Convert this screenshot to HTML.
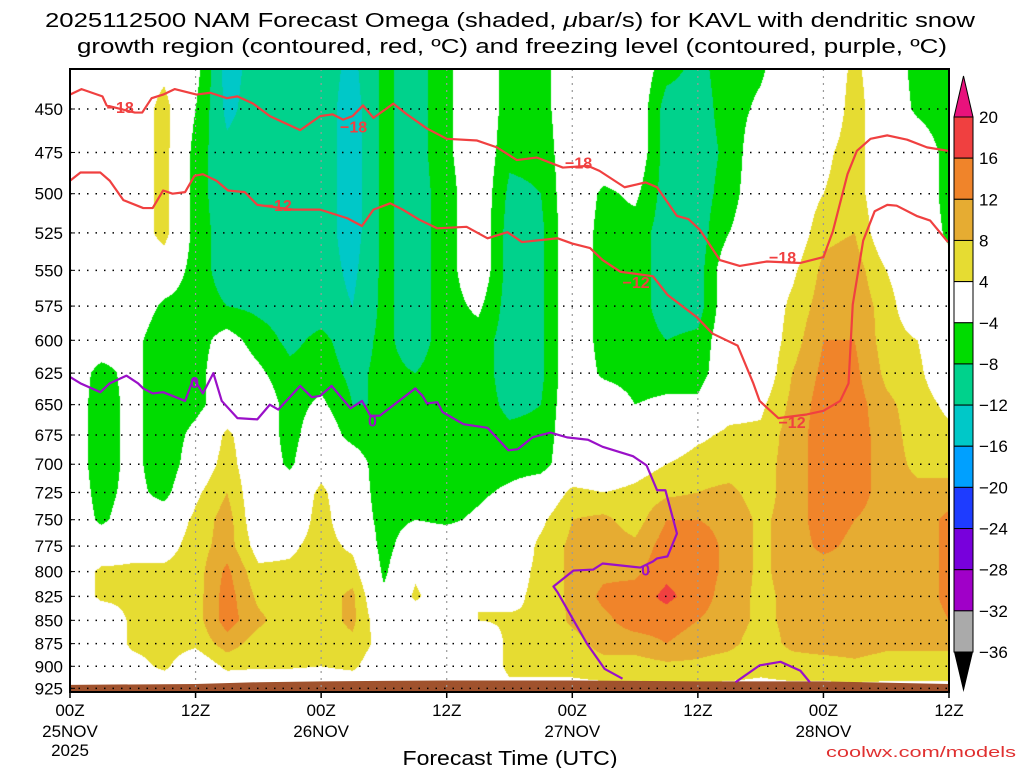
<!DOCTYPE html>
<html><head><meta charset="utf-8"><style>
html,body{margin:0;padding:0;background:#fff;width:1024px;height:768px;overflow:hidden;font-family:"Liberation Sans",sans-serif}
#wrap{position:relative;width:1024px;height:768px}
canvas{position:absolute;left:70px;top:69px}
svg{position:absolute;left:0;top:0}
</style></head><body>
<div id="wrap">
<canvas id="cv" width="879" height="623"></canvas>
<svg id="sv" width="1024" height="768">
<text x="510" y="27" text-anchor="middle" font-size="20" textLength="930" lengthAdjust="spacingAndGlyphs">2025112500 NAM Forecast Omega (shaded, <tspan font-style="italic">μ</tspan>bar/s) for KAVL with dendritic snow</text>
<text x="512" y="53" text-anchor="middle" font-size="20" textLength="870" lengthAdjust="spacingAndGlyphs">growth region (contoured, red, ºC) and freezing level (contoured, purple, ºC)</text>
<text x="510" y="765" text-anchor="middle" font-size="20" textLength="215" lengthAdjust="spacingAndGlyphs">Forecast Time (UTC)</text>
<text x="1016" y="757" text-anchor="end" font-size="15" fill="#e03030" textLength="190" lengthAdjust="spacingAndGlyphs">coolwx.com/models</text>
<g id="grid"></g><g id="lines"></g><g id="axes"></g><g id="cbar"></g>
</svg>
</div>
<script>
const hours=[0,3,6,9,12,15,18,21,24,27,30,33,36,39,42,45,48,51,54,57,60,63,66,69,72,75,78,81,84];
const levels=[425,450,475,500,525,550,575,600,625,650,675,700,725,750,775,800,825,850,875,900,925];
const omega=[
[0,0,0,0,0,0,0,0,0,0,0,0,0,0,0,0,0,0,0,0,0],
[0,0,0,0,0,0,0,0,-6,-7,-7,-7,-6,-5,0,5,5,0,0,0,0],
[0,0,0,0,0,0,0,-2,-2,-2,-2,-2,-2,-1,2,5,5,5,5,2,0],
[2,6,6,6,6,0,-5,-8,-8,-8,-8,-8,-6,0,2,5,5,6,6,5,0],
[-2,-4,-6,-6,-6,-6,-6,-6,-6,-6,-2,0,3,5,6,6,6,6,5,0,0],
[-14,-13,-11,-11,-10,-10,-8,-2,0,0,5,6,8,10,10,13,14,14,10,5,0],
[-10,-10,-10,-10,-10,-10,-9,-6,-3,0,0,0,0,0,2,5,7,9,6,4.5,0],
[-10,-10,-10,-10,-10,-10,-10,-9,-7,-6,-6,-5,0,0,3,5,5.5,5.5,5.5,4.5,0],
[-10,-10,-10,-10,-10,-10,-10,-7,-6,-3,0,2,5,6,6,6,6,6,6,4,0],
[-13,-14,-14,-14,-14,-13,-12,-10,-9,-8,-6,0,0,0,3,6,9,9,7,5,0],
[-7,-7,-7,-7,-7,-7,-7,-7,-7,-8,-8,-8,-7,-6,-6,-5,-3,0,2,0,0],
[-10,-10,-10,-10,-10,-10,-10,-10,-8,-7,-7,-7,-6,-4,0,3,5,0,0,0,0],
[-5,-5,-5,-6,-6,-6,-6,-6,-6,-6,-7,-7,-7,-5,0,0,0,0,0,0,0],
[0,0,0,0,0,0,-3,-6,-6,-6,-6,-6,-5,-3,0,0,4,4,0,0,0],
[-6,-6,-7,-9,-10,-10,-10,-10,-10,-9,-7,-6,-3,0,0,2,3,4.5,5,5,3],
[-6,-6,-7,-8,-9,-9,-9,-9,-9,-8,-7,-6,0,3,5,5,5,4,4,5,3],
[0,0,0,0,0,0,0,0,0,0,0,0,5,8,9,9,9,9,6,5,3],
[0,0,0,-5,-6,-6,-6,-6,-5,0,0,0,4,9,10,11,13,11,10,6,3],
[0,0,0,-3,-6,-6,-6,-6,-6,-4,0,2,5,6,9,11,14,14,10,6,3],
[-6,-10,-10,-10,-10,-10,-10,-8,-6,-3,0,4,7,12,14,15,17,14,12,7,3],
[-9,-10,-10,-10,-10,-10,-10,-7,-6,-3,3,6,8,12,14,14,14,12,10,7,3],
[-6,-6,-7,-6,-4,0,0,0,0,2,5,6,9,11,11,11,10,10,9,6,3],
[-5,-3,0,0,0,0,0,0,0,3,5,6,6,7,7,7,7,7,6,5,3],
[0,0,0,0,0,3,5,6,8,9,10,10,10,10,10,10,9,9,9,6,3],
[0,0,3,4,7,9,10,12,13,14,14,14,14,14,13,10,10,10,10,6,3],
[5,6,6,6,8,10,11,12,13,14,14,14,14,12,11,10,10,10,10,7,3],
[0,0,0,0,0,4,6,6,7,9,10,10,10,10,10,10,10,10,9,6,3],
[-6,-5,0,0,0,0,0,4,5,6,6,7,9,10,10,10,10,10,9,6,3],
[-8,-7,-6,-6,-5,-2,0,0,0,3,5,6,10,13,13,13,13,12,9,6,3]
];
const iso18H=[0,1.1,3.1,3.5,6.2,6.9,7.8,8.9,10,12.1,13.4,15,16,17.5,19.1,22,23.9,25.1,26.1,27,28,29,30.9,32.2,34.1,36,38.9,40.8,42.7,44.6,47.1,49.5,50.6,53,55,56.1,58,59.1,60.2,62.1,64,66.6,69.8,72,72.9,74.3,75.2,76.5,78.1,80,81.9,83.9];
const iso18P=[442,439,443,448,452,452,444,442,439,442,441,444,443,447,454,462,454,453,456,454,448,455,447,453,461,467,468,472,479.5,478,484,483,486,496,493,496,514,516,523,543,547,544,545,541,524,488,474,467,465,467.5,472,474];
const iso12H=[0,1,2.9,3.8,5.1,7,7.9,8.9,9.8,11,11.9,12.7,14,15.1,16.7,17.9,21.3,23.9,26.5,27.9,29,30.6,31.8,33.4,35.1,37.9,39.9,41.8,43.2,46.6,48,49.7,50.9,52.6,55.7,57.1,59.9,61.4,63.8,65.3,65.9,67.7,70.4,72,73.6,74.4,74.8,75.8,76.9,78.1,79,80.9,82.2,83.9];
const iso12P=[492,487,487,492,504,509,509,498,500,499,489,488,492,498,499,507,510,510,515.5,520.5,510,506,510,516.5,522,521,528.5,524.5,531,528.5,532,535,543,551,554,567,583,595,604,633,647,661,658,655,647,633,574,530,511,507,507.5,514,517,531];
const frzH=[0,1,2.9,3.8,5.4,6.5,7,7.9,8.9,11,11.8,12.7,13.7,14.5,16,17.9,19.1,19.9,22,23.1,23.9,25,26.8,27.9,28.7,29.6,33,33.7,34.1,35.1,35.6,37.6,39.9,41.9,42.8,44.2,45.9,47.5,49.5,50.9,53.8,55.1,56.1,56.9,58,57.1,56.1,55.7,54.5,50.9,50,48.1,46.2,46.6,49.4,51.1,52.8];
const frzP=[628,633,640,633,627,633,637,641,640,647,629,641,625,647,661,662,650,654,635,644,643,635,653,647,659,659,637,643,649,648,656,666,669,688,687,677,673,677,679,685,693,701,723,723,763,785,787,790,796,792,798,799,815,821,875,903,914];
const frz2H=[63.6,65.9,67.9,69.8,70.7];
const frz2P=[918,899,895,905,918];
const groundH=[0,12,18,24,36,48,60,72,84];
const groundP=[921,920,918,917,916,916,917,917,920];
const labels18=[[4.8,449],[27.1,460],[48.6,481],[68.1,541]];
const labels12=[[19.9,507],[54.1,558],[69,664]];
const labels0=[[11.9,632],[28.9,663],[55,798]];
const yTicks=[450,475,500,525,550,575,600,625,650,675,700,725,750,775,800,825,850,875,900,925];
const xTickHours=[0,12,24,36,48,60,72,84];
const xTickTime=["00Z","12Z","00Z","12Z","00Z","12Z","00Z","12Z"];
const xTickDate=["25NOV","","26NOV","","27NOV","","28NOV",""];
const cbarLevels=[20,16,12,8,4,-4,-8,-12,-16,-20,-24,-28,-32,-36];

const L=70,R=949,T=69,B=692,NS="http://www.w3.org/2000/svg";
const X=h=>L+h*(R-L)/84;
const Y=p=>109+804*Math.log(p/450);
const invH=x=>(x-L)*84/(R-L);
const invP=y=>450*Math.exp((y-109)/804);
const cols=[["#e8127c",20],["#f04040",16],["#f0842a",12],["#e6ac32",8],["#e6dc32",4],["#ffffff",-4],["#00dc00",-8],["#00d28c",-12],["#00c8c8",-16],["#00a0ff",-20],["#1e3cff",-24],["#7800dc",-28],["#a000c8",-32],["#aaaaaa",-36],["#000000",-1e9]];
function colorOf(v){for(const c of cols){if(v>c[1]||(c[1]===-4&&v>=-4))return c[0];}return "#000";}
function hex(c){return [parseInt(c.substr(1,2),16),parseInt(c.substr(3,2),16),parseInt(c.substr(5,2),16)];}
function interp(h,p){
 let i=Math.min(hours.length-2,Math.max(0,Math.floor(h/3)));
 let fx=(h-hours[i])/(hours[i+1]-hours[i]);fx=Math.max(0,Math.min(1,fx));
 const lp=Math.log(p);let j=0;
 while(j<levels.length-2&&p>levels[j+1])j++;
 let fy=(lp-Math.log(levels[j]))/(Math.log(levels[j+1])-Math.log(levels[j]));fy=Math.max(0,Math.min(1,fy));
 const a=omega[i][j],b=omega[i+1][j],c=omega[i][j+1],d=omega[i+1][j+1];
 return (a*(1-fx)+b*fx)*(1-fy)+(c*(1-fx)+d*fx)*fy;
}
const cv=document.getElementById('cv'),ctx=cv.getContext('2d');
const W=cv.width,H=cv.height,img=ctx.createImageData(W,H);
for(let py=0;py<H;py++){const p=invP(T+py+0.5);for(let px=0;px<W;px++){
 const v=interp(invH(L+px+0.5),p);const c=hex(colorOf(v));const k=(py*W+px)*4;
 img.data[k]=c[0];img.data[k+1]=c[1];img.data[k+2]=c[2];img.data[k+3]=255;}}
ctx.putImageData(img,0,0);

function mk(tag,attrs,parent){const e=document.createElementNS(NS,tag);for(const k in attrs)e.setAttribute(k,attrs[k]);parent.appendChild(e);return e;}
const grid=document.getElementById('grid'),lines=document.getElementById('lines'),axes=document.getElementById('axes'),cbar=document.getElementById('cbar');
let gpts=groundH.map((h,i)=>X(h)+","+Y(groundP[i])).join(" ")+` ${R},${B} ${L},${B}`;
let g=mk('polygon',{points:gpts,fill:"#a0522d"},grid);


yTicks.forEach(p=>{let l=mk('line',{x1:L,x2:R,y1:Y(p),y2:Y(p),stroke:"#000","stroke-width":1.5,"stroke-dasharray":"1.5 7"},grid);
 
 
 let t=mk('text',{x:63,y:Y(p)+6,"text-anchor":"end","font-size":17},axes);t.textContent=p;
 
 
 let tk=mk('line',{x1:L,x2:L+5,y1:Y(p),y2:Y(p),stroke:"#000"},axes);
 
 });
xTickHours.forEach((h,i)=>{
 if(h>0&&h<84){let l=mk('line',{x1:X(h),x2:X(h),y1:T,y2:B,stroke:"#999","stroke-width":1.2,"stroke-dasharray":"2 5"},grid);
 
 }
 let tk=mk('line',{x1:X(h),x2:X(h),y1:B,y2:B+6,stroke:"#000","stroke-width":1.5},axes);
 
 
 let t=mk('text',{x:X(h),y:716,"text-anchor":"middle","font-size":17},axes);t.textContent=xTickTime[i];
 
 
 if(xTickDate[i]){let d=mk('text',{x:X(h),y:737,"text-anchor":"middle","font-size":17},axes);d.textContent=xTickDate[i];
 
 }
});
let yr=mk('text',{x:X(0),y:756,"text-anchor":"middle","font-size":17},axes);yr.textContent="2025";


function poly(hs,ps,color,name){let pl=mk('polyline',{points:hs.map((h,i)=>X(h)+","+Y(ps[i])).join(" "),fill:"none",stroke:color,"stroke-width":2.2,"stroke-linejoin":"round"},lines);
 
 }
poly(iso18H,iso18P,"#f04040","isotherm-minus-18");
poly(iso12H,iso12P,"#f04040","isotherm-minus-12");
poly(frzH,frzP,"#9a10c8","freezing-level");
poly(frz2H,frz2P,"#9a10c8","freezing-level-arc");
function lab(arr,txt,color,name){arr.forEach(a=>{let t=mk('text',{x:X(a[0]),y:Y(a[1])+6,"text-anchor":"middle","font-size":16,"font-weight":"bold",fill:color},lines);t.textContent=txt;
 
 });}
lab(labels18,"−18","#f04040","contour-label-18");
lab(labels12,"−12","#f04040","contour-label-12");
lab(labels0,"0","#9a10c8","contour-label-0");
let fr=mk('rect',{x:L,y:T,width:R-L,height:B-T,fill:"none",stroke:"#000","stroke-width":2},axes);


const cbX=954,cbW=19,cbTop=117,cbStep=(652-117)/13;
let tri=mk('polygon',{points:`${cbX},${cbTop} ${cbX+cbW},${cbTop} ${cbX+cbW/2},76`,fill:cols[0][0],stroke:"#000"},cbar);


for(let i=0;i<13;i++){let r=mk('rect',{x:cbX,y:cbTop+i*cbStep,width:cbW,height:cbStep,fill:cols[i+1][0],stroke:"#000","stroke-width":1},cbar);
 
 }
let tri2=mk('polygon',{points:`${cbX},652 ${cbX+cbW},652 ${cbX+cbW/2},692`,fill:"#000"},cbar);


cbarLevels.forEach((v,i)=>{let t=mk('text',{x:979,y:cbTop+i*cbStep+6,"font-size":17},cbar);t.textContent=v<0?"−"+(-v):v;
 
 });
</script>
</body></html>
